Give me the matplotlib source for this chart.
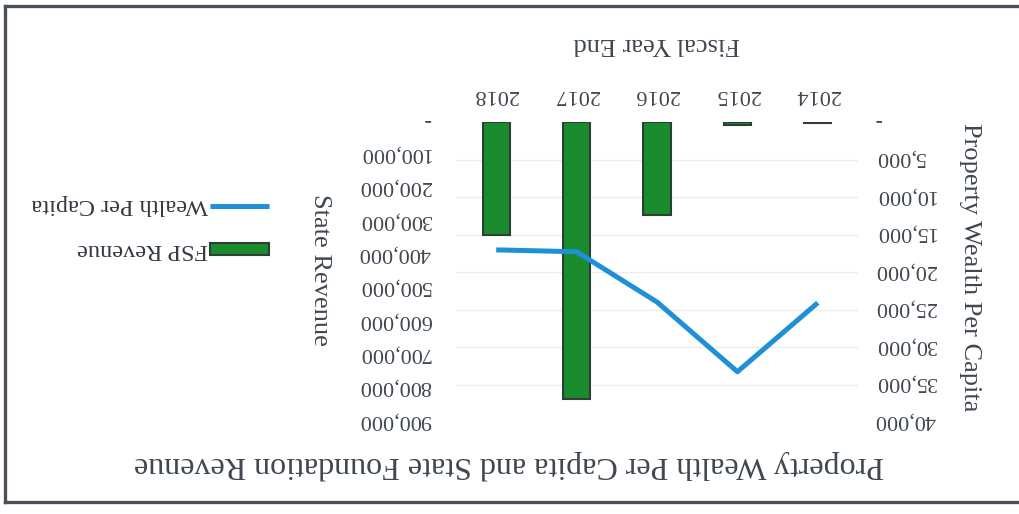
import matplotlib
matplotlib.use('Agg')
import matplotlib.pyplot as plt
from matplotlib.ticker import FuncFormatter
from matplotlib.lines import Line2D
import numpy as np

years = ['2014', '2015', '2016', '2017', '2018']
fsp_revenue = [2000, 8000, 280000, 830000, 340000]
wealth_per_capita = [24100, 33300, 24000, 17300, 17050]

revenue_ticks = [0, 100000, 200000, 300000, 400000, 500000, 600000, 700000, 800000, 900000]
wealth_ticks = [0, 5000, 10000, 15000, 20000, 25000, 30000, 35000, 40000]

txt = '#3f4750'
green = '#1a8c2e'
blue = '#1f8fd6'
plt.rcParams['font.family'] = ['Liberation Serif', 'DejaVu Serif']

def fmt(v, pos=None):
    if v == 0:
        return '-'
    return '{:,.0f}'.format(v)

fig = plt.figure(figsize=(10.19, 5.14), dpi=100)
# the whole chart is scanned upside down, so everything is flipped 180 degrees
ax = fig.add_axes([456/1019, 1 - 422/514, 402/1019, 300/514])
x = np.arange(len(years))

bars = ax.bar(x, fsp_revenue, width=0.34, color=green, edgecolor='#2e3d36',
              linewidth=1.5, label='FSP Revenue', zorder=2)
ax.set_xlim(len(years) - 0.5, -0.5)
ax.set_ylim(revenue_ticks[-1], 0)
ax.set_yticks(revenue_ticks)
ax.yaxis.set_major_formatter(FuncFormatter(fmt))
# faint grid at the wealth tick levels
ax.set_yticks([w * revenue_ticks[-1] / wealth_ticks[-1] for w in wealth_ticks], minor=True)
ax.grid(which='minor', axis='y', color='#ededed', linewidth=1, zorder=0)
ax.set_axisbelow(True)
ax.xaxis.tick_top()
ax.set_xticks(x)
ax.set_xticklabels(years)
ax.xaxis.set_label_position('top')
ax.set_xlabel('Fiscal Year End', fontsize=19, color=txt, rotation=180, labelpad=25)
ax.tick_params(length=0, labelsize=16, labelcolor=txt)
ax.tick_params(axis='y', which='minor', length=0)
ax.tick_params(axis='y', pad=18)
ax.tick_params(axis='x', pad=13)
plt.setp(ax.get_yticklabels(), rotation=180, rotation_mode='anchor',
         ha='left', va='center_baseline')
plt.setp(ax.get_xticklabels(), rotation=180)

ax2 = ax.twinx()
line, = ax2.plot(x, wealth_per_capita, color=blue, linewidth=3.6,
                 solid_capstyle='butt', label='Wealth Per Capita')
ax2.set_ylim(wealth_ticks[-1], 0)
ax2.set_yticks(wealth_ticks)
ax2.yaxis.set_major_formatter(FuncFormatter(fmt))
ax2.tick_params(length=0, labelsize=16, labelcolor=txt, pad=12)
plt.setp(ax2.get_yticklabels(), rotation=180, rotation_mode='anchor',
         ha='right', va='center_baseline')

for a in (ax, ax2):
    for s in a.spines.values():
        s.set_visible(False)

fig.text(320/1019, 1 - 270/514, 'State Revenue', rotation=270, fontsize=19,
         color=txt, ha='center', va='center')
fig.text(970/1019, 1 - 267/514, 'Property Wealth Per Capita', rotation=270,
         fontsize=19, color=txt, ha='center', va='center')
fig.text(0.5, 1 - 465/514, 'Property Wealth Per Capita and State Foundation Revenue',
         rotation=180, fontsize=23, color=txt, ha='center', va='center')

leg = fig.legend([line, bars], ['Wealth Per Capita', 'FSP Revenue'],
                 loc='center', bbox_to_anchor=(150/1019, 1 - 227/514),
                 frameon=False, markerfirst=False, fontsize=17.5, handlelength=2.4,
                 handleheight=0.42, handletextpad=0.1, labelspacing=0.95)
for t in leg.get_texts():
    t.set_rotation(180)
    t.set_color('#333a42')
# line up the flipped labels with their handles
for col in leg._legend_handle_box.get_children():
    for row in col.get_children():
        row.align = 'center'

# scanned frame edges
for xs, ys in [([5, 1019], [6, 6]), ([5, 1019], [502, 502]), ([5, 5], [6, 502])]:
    fig.add_artist(Line2D([v / 1019 for v in xs], [1 - v / 514 for v in ys],
                          transform=fig.transFigure, color='#4a5058', linewidth=2.4))

fig.savefig('out.png', dpi=100)
